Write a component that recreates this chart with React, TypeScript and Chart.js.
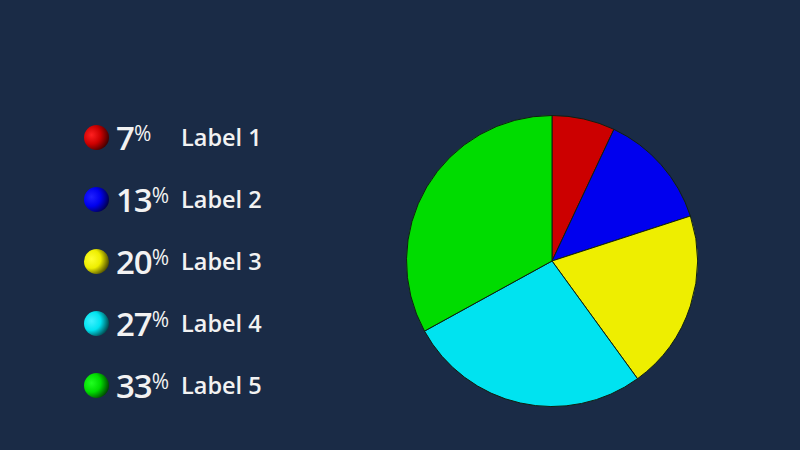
import { useEffect, useRef } from 'react';
import { Chart, registerables } from 'chart.js';

Chart.register(...registerables);

const labels = ['Label 1', 'Label 2', 'Label 3', 'Label 4', 'Label 5'];
const values = [7, 13, 20, 27, 33];
const colors = ['#cc0000', '#0000ee', '#eeee00', '#00e3f0', '#00dc00'];
const sphereColors = ['#ff2020', '#2020ff', '#ffff30', '#40f0ff', '#20ff20'];

const BG = '#1a2b46';

export default function App() {
  const canvasRef = useRef<HTMLCanvasElement>(null);
  const chartRef = useRef<Chart | null>(null);

  useEffect(() => {
    if (!canvasRef.current) return;
    if (chartRef.current) chartRef.current.destroy();
    const ctx = canvasRef.current.getContext('2d');
    if (!ctx) return;

    chartRef.current = new Chart(ctx, {
      type: 'pie',
      data: {
        labels,
        datasets: [{
          data: values,
          backgroundColor: colors,
          borderColor: '#102010',
          borderWidth: 1,
        }]
      },
      options: {
        responsive: true,
        maintainAspectRatio: false,
        animation: false,
        plugins: {
          legend: { display: false },
          tooltip: { enabled: false }
        },
        layout: { padding: 0 }
      }
    });

    return () => {
      if (chartRef.current) {
        chartRef.current.destroy();
        chartRef.current = null;
      }
    };
  }, []);

  const total = values.reduce((s, v) => s + v, 0);

  return (
    <div style={{ position: 'fixed', left: 0, top: 0, width: 800, height: 450, background: BG, overflow: 'hidden', fontFamily: '"Open Sans", Lato, sans-serif' }}>
      {labels.map((label, i) => (
        <div key={label} style={{ position: 'absolute', left: 84, top: 137 + i * 62 - 20, height: 40, display: 'flex', alignItems: 'center', color: '#f2f2f2' }}>
          <div style={{
            width: 25, height: 25, borderRadius: '50%',
            background: `radial-gradient(circle at 30% 40%, ${sphereColors[i]} 0%, ${colors[i]} 40%, #000 95%)`
          }} />
          <div style={{ width: 64, marginLeft: 7, whiteSpace: 'nowrap', letterSpacing: -1 }}>
            <span style={{ fontSize: 33, fontWeight: 600 }}>{Math.round(values[i] / total * 100)}</span>
            <span style={{ fontSize: 21, fontWeight: 500, verticalAlign: 9 }}>%</span>
          </div>
          <div style={{ fontSize: 23.5, fontWeight: 600, marginLeft: 1 }}>{label}</div>
        </div>
      ))}
      <div style={{ position: 'absolute', left: 406, top: 115, width: 292, height: 292 }}>
        <canvas ref={canvasRef} />
      </div>
    </div>
  );
}
